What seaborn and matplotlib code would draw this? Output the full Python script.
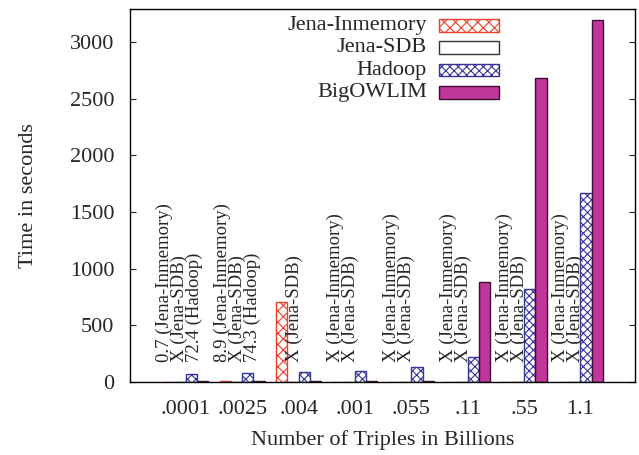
import numpy as np
import pandas as pd
import matplotlib
matplotlib.use("Agg")
import matplotlib.pyplot as plt
import seaborn as sns
from matplotlib.patches import Patch

# data (NaN = "X", not available)
categories = [".0001", ".0025", ".004", ".001", ".055", ".11", ".55", "1.1"]
systems = ["Jena-Inmemory", "Jena-SDB", "Hadoop", "BigOWLIM"]
jena_inmemory = [0.7, 8.9, 700, np.nan, np.nan, np.nan, np.nan, np.nan]
jena_sdb = [np.nan] * 8
hadoop = [72.4, 74.3, 82, 98, 133, 222, 822, 1668]
bigowlim = [4, 4, 4, 4, 4, 881, 2683, 3198]
annotations = [
    "0.7 (Jena-Inmemory)\nX (Jena-SDB)\n72.4 (Hadoop)",
    "8.9 (Jena-Inmemory)\nX (Jena-SDB)\n74.3 (Hadoop)",
    "X (Jena-SDB)",
    "X (Jena-Inmemory)\nX (Jena-SDB)",
    "X (Jena-Inmemory)\nX (Jena-SDB)",
    "X (Jena-Inmemory)\nX (Jena-SDB)",
    "X (Jena-Inmemory)\nX (Jena-SDB)",
    "X (Jena-Inmemory)\nX (Jena-SDB)",
]

sns.set_style("ticks")
plt.rcParams["font.family"] = ["Liberation Serif", "DejaVu Serif"]
plt.rcParams["hatch.linewidth"] = 0.8

values = {"Jena-Inmemory": jena_inmemory, "Jena-SDB": jena_sdb,
          "Hadoop": hadoop, "BigOWLIM": bigowlim}
rows = []
for s in systems:
    for c, v in zip(categories, values[s]):
        rows.append({"size": c, "system": s, "time": v})
df = pd.DataFrame(rows)
df["plot_time"] = df["time"].fillna(0)  # gnuplot draws empty bars at zero

estilos = {
    "Jena-Inmemory": dict(facecolor="white", edgecolor="#e8402a", hatch="xxx", linewidth=1.0),
    "Jena-SDB": dict(facecolor="white", edgecolor="#333333", hatch=None, linewidth=1.0),
    "Hadoop": dict(facecolor="white", edgecolor="#34349c", hatch="xxxx", linewidth=1.0),
    "BigOWLIM": dict(facecolor="#c0369a", edgecolor="#3c1030", hatch=None, linewidth=1.0),
}

fig = plt.figure(figsize=(6.39, 4.55), dpi=100)
ax = fig.add_axes([0.2027, 0.1611, 0.7910, 0.8185])

sns.barplot(data=df, x="size", y="plot_time", hue="system", order=categories,
            hue_order=systems, width=0.8, errorbar=None, saturation=1,
            palette=["white"] * 4, legend=False, ax=ax)

for cont, s in zip(ax.containers, systems):
    for p in cont:
        p.set_facecolor(estilos[s]["facecolor"])
        p.set_edgecolor(estilos[s]["edgecolor"])
        p.set_hatch(estilos[s]["hatch"])
        p.set_linewidth(estilos[s]["linewidth"])

# text labels above the groups
offsets = [-0.53, -0.5, -0.22, -0.5, -0.5, -0.5, -0.5, -0.5]
for i, (txt, off) in enumerate(zip(annotations, offsets)):
    ax.text(i + off, 170, txt, rotation=90, ha="left", va="bottom",
            fontsize=13.5, linespacing=0.82)

ax.set_xlim(-1, 7.97)
ax.set_ylim(0, 3290)
ax.set_yticks(range(0, 3001, 500))
ax.tick_params(axis="both", direction="in", length=4, labelsize=16, width=0.8)
ax.tick_params(axis="y", right=True, pad=11)
ax.tick_params(axis="x", top=False, pad=13)
for sp in ax.spines.values():
    sp.set_visible(True)
    sp.set_linewidth(1.0)
    sp.set_color("black")

ax.set_xlabel("Number of Triples in Billions", fontsize=16)
ax.set_ylabel("Time in seconds", fontsize=16)
ax.xaxis.set_label_coords(0.5, -0.13)
ax.yaxis.set_label_coords(-0.182, 0.5)

# legend: swatches from matplotlib, texts right-aligned like gnuplot
handles = [Patch(**estilos[s]) for s in systems]
leg = ax.legend(handles, systems, loc="upper right", markerfirst=False,
                frameon=False, fontsize=16, handlelength=2.7, handleheight=0.5,
                handletextpad=0.65, labelspacing=0.14, borderpad=0, borderaxespad=0,
                bbox_to_anchor=(499 / 639, 1 - 19 / 455), bbox_transform=fig.transFigure)
fig.canvas.draw()
renderer = fig.canvas.get_renderer()
inv = fig.transFigure.inverted()
for t, p, s in zip(leg.get_texts(), leg.get_patches(), systems):
    t.set_alpha(0)
    bb = p.get_window_extent(renderer)
    x0, yc = inv.transform((bb.x0 - 12, (bb.y0 + bb.y1) / 2))
    fig.text(x0, yc, s, ha="right", va="center", fontsize=16)

fig.savefig("out.png", dpi=100)
